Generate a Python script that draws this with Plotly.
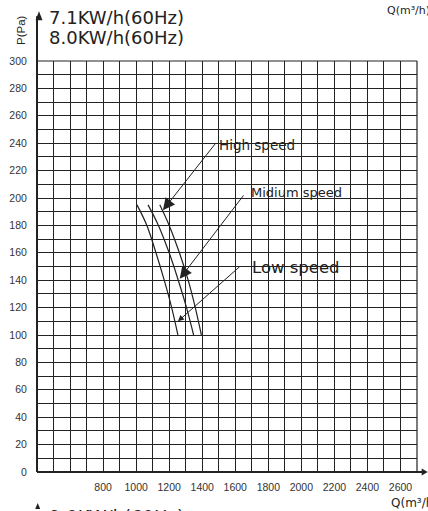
import plotly.graph_objects as go

# Fan performance curves: static pressure P (Pa) vs air volume Q (m³/h)
pressure = [195, 180, 160, 140, 120, 100]
q_low = [1005, 1065, 1120, 1170, 1215, 1253]
q_mid = [1072, 1135, 1200, 1255, 1305, 1348]
q_high = [1143, 1200, 1262, 1315, 1358, 1395]

x_ticks = [800, 1000, 1200, 1400, 1600, 1800, 2000, 2200, 2400, 2600]
y_ticks = list(range(0, 301, 20))

W, H = 428, 511
ML, MR, MT, MB = 37.3, 10.7, 60.7, 39
PW, PH = W - ML - MR, H - MT - MB


def px(x):
    return (x - ML) / PW


def py(y):
    return (H - MB - y) / PH


INK = "#222222"
FONT = "Liberation Sans, Arial, sans-serif"
WIDE = "DejaVu Sans, sans-serif"

fig = go.Figure()
for q in (q_low, q_mid, q_high):
    fig.add_trace(go.Scatter(x=q, y=pressure, mode="lines", line=dict(color=INK, width=1.2, shape="spline"),
                             showlegend=False, hoverinfo="skip"))

# Arrow callouts (tail -> head in data units) and their labels
callouts = [
    ("High speed", (1488, 241), (1162, 191), 2, 2.4, 13.5, (1489, 238.5)),
    ("Midium speed", (1657, 203), (1264, 141), 2, 2.4, 13, (1681, 204)),
    ("Low speed", (1637, 151), (1253, 110), 2, 1.2, 16.5, (1690, 149.5)),
]
for text, tail, head, ah, asz, fs, (lx, ly) in callouts:
    fig.add_annotation(x=head[0], y=head[1], ax=tail[0], ay=tail[1], xref="x", yref="y", axref="x", ayref="y",
                       text="", showarrow=True, arrowhead=ah, arrowsize=asz, arrowwidth=1, arrowcolor=INK, standoff=0)
    fig.add_annotation(x=lx, y=ly, xref="x", yref="y", text=text, showarrow=False, xanchor="left", yanchor="middle",
                       font=dict(family=WIDE, size=fs, color=INK))

# Titles and axis captions
fig.add_annotation(x=px(47), y=py(17), xref="paper", yref="paper", text="7.1KW/h(60Hz)", showarrow=False,
                   xanchor="left", yanchor="middle", font=dict(family=WIDE, size=18, color=INK))
fig.add_annotation(x=px(47), y=py(37), xref="paper", yref="paper", text="8.0KW/h(60Hz)", showarrow=False,
                   xanchor="left", yanchor="middle", font=dict(family=WIDE, size=18, color=INK))
fig.add_annotation(x=px(47), y=py(504), xref="paper", yref="paper", text="9.0KW/h(60Hz)", showarrow=False,
                   xanchor="left", yanchor="top", font=dict(family=WIDE, size=18, color=INK))
fig.add_annotation(x=px(22), y=py(30), xref="paper", yref="paper", text="P(Pa)", showarrow=False, textangle=-90,
                   xanchor="center", yanchor="middle", font=dict(family=FONT, size=11.5, color=INK))
fig.add_annotation(x=px(385), y=py(10), xref="paper", yref="paper", text="Q(m³/h)", showarrow=False,
                   xanchor="left", yanchor="middle", font=dict(family=WIDE, size=11, color=INK))
fig.add_annotation(x=px(389), y=py(503), xref="paper", yref="paper", text="Q(m³/h)", showarrow=False,
                   xanchor="left", yanchor="middle", font=dict(family=WIDE, size=12, color=INK))

# Axis lines with arrowheads, plus top/right frame
shapes = [
    dict(type="line", xref="paper", yref="paper", x0=0, y0=0, x1=0, y1=py(16), line=dict(color=INK, width=2)),
    dict(type="path", xref="paper", yref="paper",
         path=f"M {px(39.3)} {py(11)} L {px(35.8)} {py(20)} L {px(42.8)} {py(20)} Z", fillcolor=INK, line=dict(width=0)),
    dict(type="line", xref="paper", yref="paper", x0=0, y0=0, x1=px(424), y1=0, line=dict(color=INK, width=2)),
    dict(type="path", xref="paper", yref="paper",
         path=f"M {px(428)} {py(472)} L {px(422)} {py(468.5)} L {px(422)} {py(475.5)} Z", fillcolor=INK, line=dict(width=0)),
    dict(type="line", xref="paper", yref="paper", x0=1, y0=0, x1=1, y1=1, line=dict(color=INK, width=1.2)),
    dict(type="line", xref="paper", yref="paper", x0=0, y0=1, x1=1, y1=1, line=dict(color=INK, width=1.2)),
    dict(type="path", xref="paper", yref="paper",
         path=f"M {px(38)} {py(503)} L {px(35.5)} {py(509)} L {px(40.5)} {py(509)} Z", fillcolor=INK, line=dict(width=0)),
]

fig.update_layout(
    width=W, height=H, margin=dict(l=ML, r=MR, t=MT, b=MB, pad=0),
    paper_bgcolor="white", plot_bgcolor="white", shapes=shapes,
    xaxis=dict(range=[400, 2700], tickvals=x_ticks, ticktext=[str(v) for v in x_ticks], showgrid=True,
               gridcolor=INK, gridwidth=1, zeroline=False, showline=False, ticks="outside", ticklen=5,
               tickcolor="rgba(0,0,0,0)", tickfont=dict(family=FONT, size=10.5, color="#333333"),
               minor=dict(dtick=100, showgrid=True, gridcolor=INK, gridwidth=1, tick0=400)),
    yaxis=dict(range=[0, 300], tickvals=y_ticks, showgrid=True, gridcolor=INK, gridwidth=1, zeroline=False,
               showline=False, ticks="outside", ticklen=7, tickcolor="rgba(0,0,0,0)",
               tickfont=dict(family=FONT, size=10.5, color="#333333"),
               minor=dict(dtick=10, showgrid=True, gridcolor=INK, gridwidth=1, tick0=0)),
)

fig.write_html("out.html")
